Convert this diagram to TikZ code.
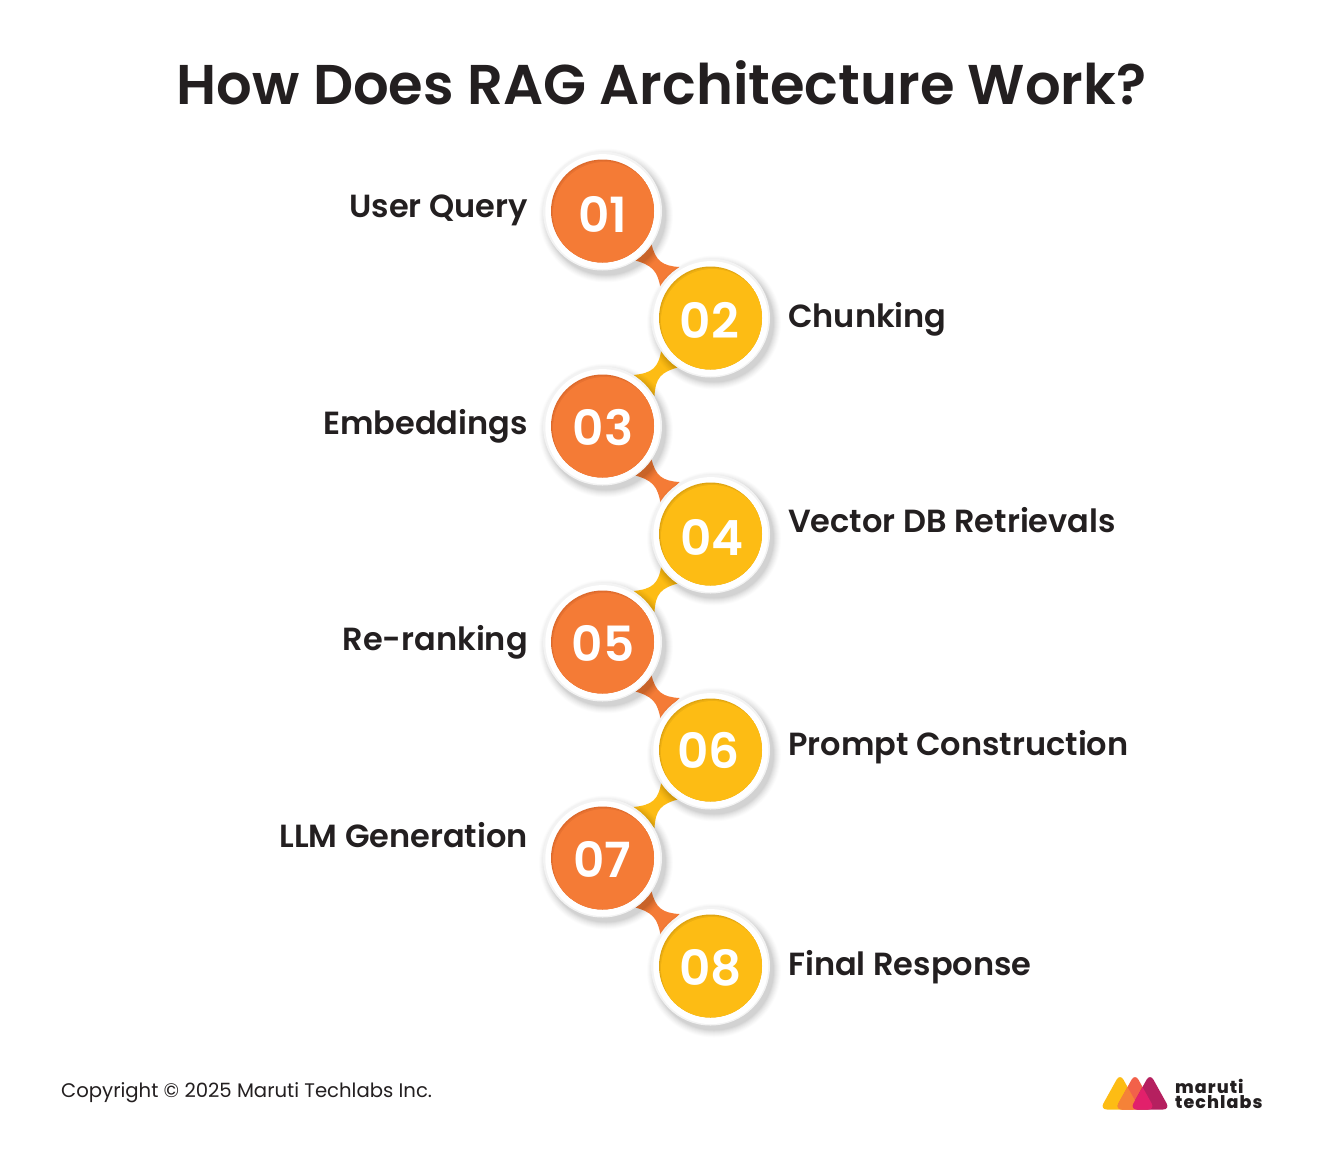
\documentclass[tikz,border=0pt]{standalone}
\usepackage{fontspec}
\setmainfont{Poppins}[BoldFont={Poppins SemiBold}]
\newfontfamily\logofont{Poppins ExtraBold}[LetterSpace=6]
\usetikzlibrary{calc}
\definecolor{ink}{HTML}{231F20}
\definecolor{orangeC}{HTML}{F47B36}
\definecolor{orangeD}{HTML}{DD6A2C}
\definecolor{yellowC}{HTML}{FDBC14}
\definecolor{yellowD}{HTML}{DFA410}
\definecolor{ringC}{HTML}{F3F3F3}
\definecolor{logoA}{HTML}{FDBC14}
\definecolor{logoB}{HTML}{F2614A}
\definecolor{logoC}{HTML}{B5205F}
\definecolor{logoAB}{HTML}{F58238}
\definecolor{logoBC}{HTML}{E2206B}
\tikzset{
  x=1pt,y=-1pt,
  titletxt/.style={font=\bfseries\fontsize{56}{60}\selectfont,text=ink,inner sep=0pt},
  steptxt/.style={font=\bfseries\fontsize{32}{36}\selectfont,text=ink,inner sep=0pt},
  digit/.style={font=\bfseries\fontsize{48.5}{50}\selectfont,text=white,inner sep=0pt},
  foot/.style={font=\fontsize{19.65}{24}\selectfont,text=ink,inner sep=0pt},
  logotxt/.style={font=\logofont\fontsize{17.5}{14.5}\selectfont,text=ink,inner sep=0pt,align=left},
}
\newcommand{\discat}[3]{%
  \foreach \r/\o in {67/.012,66/.015,65/.02,64/.02,63/.025,62/.025,61/.03,60/.035}{
    \fill[black,opacity=\o] ($(#1)+(3.5,4.5)$) circle[radius=\r];}
  \fill[ringC] (#1) circle[radius=59.5];
  \fill[white] ($(#1)+(0.3,0.6)$) circle[radius=57.5];
  \fill[#3] (#1) circle[radius=51.5];
  \begin{scope}
    \clip (#1) circle[radius=51.5];
    \fill[#2,opacity=.5] ($(#1)+(1,1.2)$) circle[radius=51.5];
    \fill[#2] ($(#1)+(2,2.5)$) circle[radius=51.5];
  \end{scope}
}
\begin{document}
\begin{tikzpicture}
\useasboundingbox (0,0) rectangle (1322,1151);
\fill[white] (0,0) rectangle (1322,1151);
\coordinate (c1) at (602.5,211);
\coordinate (c2) at (710.5,318);
\coordinate (c3) at (602.5,426);
\coordinate (c4) at (710.5,534);
\coordinate (c5) at (602.5,642);
\coordinate (c6) at (710.5,750);
\coordinate (c7) at (602.5,858);
\coordinate (c8) at (710.5,966);
% connectors
\foreach \c in {c1,c3,c5,c7}{
  \begin{scope}[shift={(\c)}]
    \fill[orangeC] (49,33) .. controls (53,50) and (60,55) .. (77,56)
       -- (58,77) .. controls (55,60) and (50,54) .. (31,49) -- cycle;
  \end{scope}}
\foreach \c in {c2,c4,c6}{
  \begin{scope}[shift={(\c)}]
    \fill[yellowC] (-49,31) .. controls (-52,50) and (-58,55) .. (-77,57)
       -- (-56,78) .. controls (-55,60) and (-50,54) .. (-31,49) -- cycle;
  \end{scope}}
% discs
\foreach \c in {c1,c3,c5,c7}{\discat{\c}{orangeC}{orangeD}}
\foreach \c in {c2,c4,c6,c8}{\discat{\c}{yellowC}{yellowD}}
% digits
\node[digit] (d1) at (603,214) {01};
\node[digit] (d2) at (709.5,320) {02};
\node[digit] (d3) at (603,428) {03};
\node[digit] (d4) at (712,537) {04};
\node[digit] (d5) at (603,643) {05};
\node[digit] (d6) at (708.5,750) {06};
\node[digit] (d7) at (602,859) {07};
\node[digit] (d8) at (710.5,968) {08};
% title
\node[titletxt,anchor=base] (title) at (661.5,104) {How Does RAG Architecture Work?};
% labels
\node[steptxt,anchor=base east] (l1) at (528,217) {User Query};
\node[steptxt,anchor=base west] (l2) at (788,327) {Chunking};
\node[steptxt,anchor=base east] (l3) at (528,434) {Embeddings};
\node[steptxt,anchor=base west] (l4) at (788,532) {Vector DB Retrievals};
\node[steptxt,anchor=base east] (l5) at (528,650) {Re-ranking};
\node[steptxt,anchor=base west] (l6) at (788,755) {Prompt Construction};
\node[steptxt,anchor=base east] (l7) at (528,847) {LLM Generation};
\node[steptxt,anchor=base west] (l8) at (788,975) {Final Response};
% footer
\node[foot,anchor=base west] (copy) at (61,1097) {Copyright © 2025 Maruti Techlabs Inc.};
% logo
\def\triA{(1120,1073.5) -- (1140,1109.5) -- (1100,1109.5) -- cycle}
\def\triB{(1135,1073.5) -- (1155,1109.5) -- (1115,1109.5) -- cycle}
\def\triC{(1150,1073.5) -- (1170,1109.5) -- (1130,1109.5) -- cycle}
\tikzset{logotri/.style={rounded corners=7pt}}
\fill[logoA,logotri] \triA;
\fill[logoB,logotri] \triB;
\fill[logoC,logotri] \triC;
\begin{scope}
  \clip[logotri] \triA;
  \fill[logoAB,logotri] \triB;
\end{scope}
\begin{scope}
  \clip[logotri] \triB;
  \fill[logoBC,logotri] \triC;
\end{scope}
\node[logotxt,anchor=base west] (logo1) at (1175,1093.5) {maruti};
\node[logotxt,anchor=base west] (logo2) at (1175,1108) {techlabs};
\end{tikzpicture}
\end{document}
